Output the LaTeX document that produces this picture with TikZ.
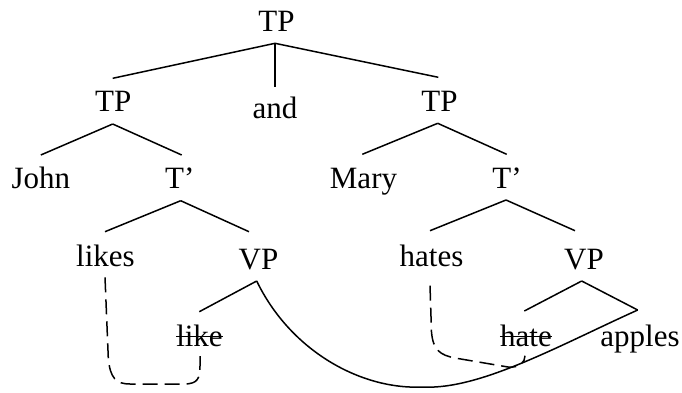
\documentclass[tikz,border=0pt]{standalone}
\usepackage{fontspec}
\setmainfont{Liberation Serif}
\begin{document}
\begin{tikzpicture}[x=1pt,y=-1pt,
  lbl/.style={inner sep=0pt,anchor=base,font=\fontsize{31}{37}\selectfont},
  branch/.style={line width=1.5pt},
  trace/.style={line width=1.5pt,dash pattern=on 15pt off 7pt},
  strike/.style={line width=1.2pt}]
\useasboundingbox (0,0) rectangle (682,392);
% nodes
\node[lbl] (TP0) at (276.5,31.7) {TP};
\node[lbl] (TP1) at (113.3,111) {TP};
\node[lbl] (and) at (275,118.3) {and};
\node[lbl] (TP2) at (439.5,111) {TP};
\node[lbl] (John) at (40.8,188.3) {John};
\node[lbl] (T1) at (179.8,188.3) {T’};
\node[lbl] (Mary) at (363.5,188.3) {Mary};
\node[lbl] (T2) at (507,188.3) {T’};
\node[lbl] (likes) at (105.5,266) {likes};
\node[lbl] (VP1) at (258.5,269.5) {VP};
\node[lbl] (hates) at (431.5,266) {hates};
\node[lbl] (VP2) at (584,269.5) {VP};
\node[lbl] (like) at (199.5,346.7) {like};
\node[lbl] (hate) at (526,346.7) {hate};
\node[lbl] (apples) at (640,346.7) {apples};
% vertices
\coordinate (v0) at ([xshift=-1.5pt,yshift=-11.6pt]TP0.base);
\coordinate (v1) at ([xshift=-0.6pt,yshift=-13pt]TP1.base);
\coordinate (v2) at ([xshift=-1.8pt,yshift=-12.3pt]TP2.base);
\coordinate (v3) at ([xshift=0.9pt,yshift=-12.4pt]T1.base);
\coordinate (v4) at ([xshift=-1pt,yshift=-11.7pt]T2.base);
\coordinate (v5) at ([xshift=-1.8pt,yshift=-11.5pt]VP1.base);
\coordinate (v6) at ([xshift=-2.3pt,yshift=-11.5pt]VP2.base);
\coordinate (eapples) at ([xshift=-2.3pt,yshift=36.7pt]apples.base);
% branches
\draw[branch] (v0) -- ([xshift=-0.6pt,yshift=32.7pt]TP1.base);
\draw[branch] (v0) -- ([yshift=31.6pt]and.base);
\draw[branch] (v0) -- ([xshift=-1.2pt,yshift=33.7pt]TP2.base);
\draw[branch] (v1) -- ([yshift=33.3pt]John.base);
\draw[branch] (v1) -- ([xshift=1.9pt,yshift=33.3pt]T1.base);
\draw[branch] (v2) -- ([xshift=-1.2pt,yshift=34pt]Mary.base);
\draw[branch] (v2) -- ([xshift=-0.3pt,yshift=34pt]T2.base);
\draw[branch] (v3) -- ([xshift=-0.5pt,yshift=34.3pt]likes.base);
\draw[branch] (v3) -- ([xshift=-9.5pt,yshift=37.8pt]VP1.base);
\draw[branch] (v4) -- ([xshift=-1.5pt,yshift=35.3pt]hates.base);
\draw[branch] (v4) -- ([xshift=-9pt,yshift=38.8pt]VP2.base);
\draw[branch] (v5) -- ([xshift=-0.2pt,yshift=35pt]like.base);
\draw[branch] (v6) -- ([xshift=-1.7pt,yshift=35.7pt]hate.base);
\draw[branch] (v6) -- (eapples);
% strikethroughs
\draw[strike] ([yshift=10pt]like.base west) -- ([yshift=10pt]like.base east);
\draw[strike] ([yshift=10pt]hate.base west) -- ([yshift=10pt]hate.base east);
% movement curve
\draw[branch] (v5) .. controls (290,350) and (360,390) .. (423,387)
  .. controls (480,390) and (560,345) .. (eapples);
% traces
\draw[trace] ([xshift=-0.5pt,yshift=-11.3pt]likes.base) -- (108.3,358)
  .. controls (110,378) and (116,384) .. (130,384) -- (184,384)
  .. controls (198,384) and (200,378) .. (200,366) -- ([xshift=0.5pt,yshift=-9.5pt]like.base);
\draw[trace] ([xshift=-1.5pt,yshift=-19.7pt]hates.base) -- (431.5,332)
  .. controls (433,350) and (440,355) .. (455,358) -- (508,367)
  .. controls (520,368) and (525,362) .. ([xshift=-1pt,yshift=-9pt]hate.base);
\end{tikzpicture}
\end{document}
